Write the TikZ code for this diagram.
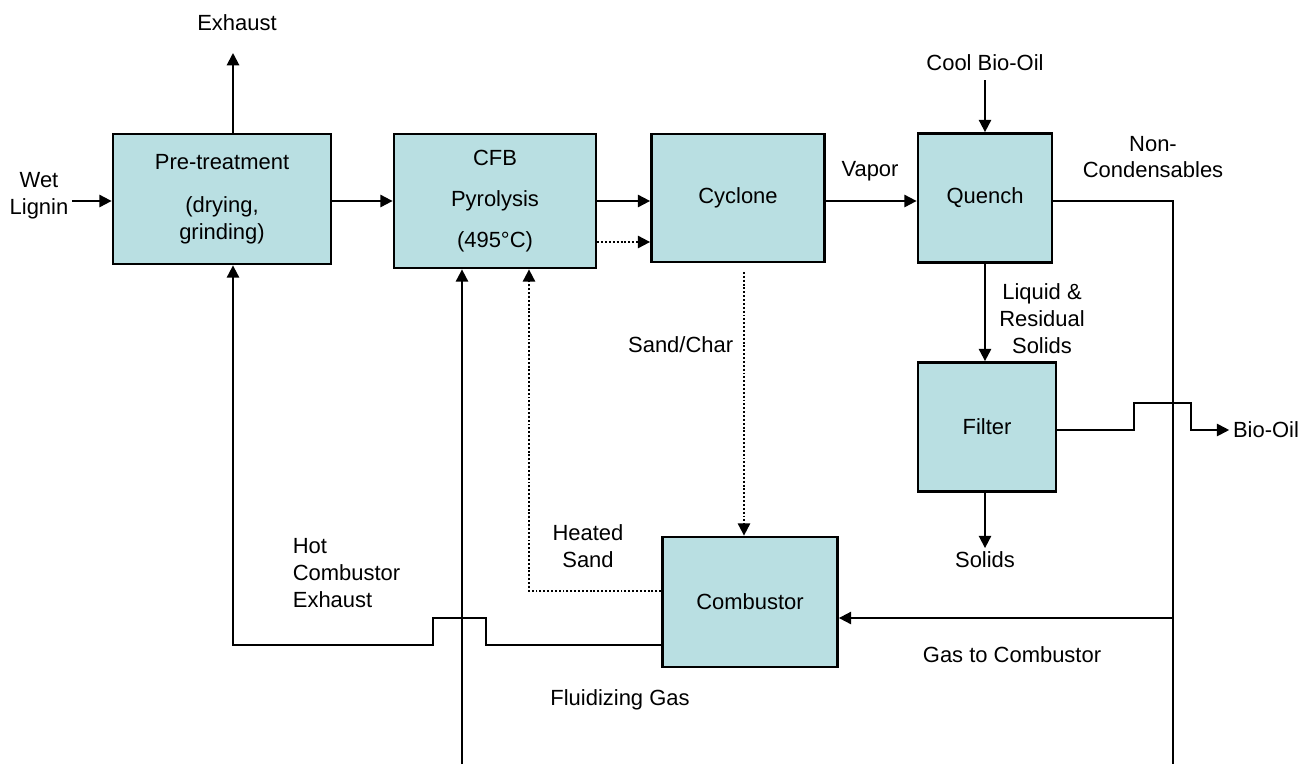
\documentclass[tikz,border=0pt]{standalone}
\usepackage{fontspec}
\setmainfont{Liberation Sans}
\usetikzlibrary{arrows.meta}
\definecolor{boxfill}{RGB}{185,223,226}
\tikzset{
  unit/.style={x=0.02cm,y=-0.02cm},
  proc/.style={draw,line width=1.6pt,fill=boxfill,align=center,inner sep=0pt},
  pipe/.style={line width=1.1pt},
  flow/.style={pipe,-{Triangle[length=7pt,width=7pt]}},
  dots/.style={dash pattern=on 1.1pt off 1.1pt},
  lbl/.style={align=center,inner sep=2pt}
}
\begin{document}
\begin{tikzpicture}[unit,font=\fontsize{12.5}{15.3}\selectfont]
\useasboundingbox (0,0) rectangle (1310,764);
% process units
\node[proc,minimum width=4.36cm,minimum height=2.6cm] (pre) at (222,199) {Pre-treatment\\[9pt](drying,\\grinding)};
\node[proc,minimum width=4.04cm,minimum height=2.68cm] (pyr) at (495,201) {CFB\\[8pt]Pyrolysis\\[8pt](495°C)};
\node[proc,minimum width=3.46cm,minimum height=2.56cm] (cyc) at (738,198) {Cyclone};
\node[proc,minimum width=2.68cm,minimum height=2.58cm] (que) at (985,198) {Quench};
\node[proc,minimum width=2.76cm,minimum height=2.58cm] (fil) at (987,427) {Filter};
\node[proc,minimum width=3.5cm,minimum height=2.6cm] (com) at (750,602) {Combustor};
% stream labels
\node[lbl] (wet) at (39,196) {Wet\\Lignin};
\node[lbl] (exhaust) at (237,23) {Exhaust};
\node[lbl] (vapor) at (870,171) {Vapor};
\node[lbl] (cool) at (985,63) {Cool Bio-Oil};
\node[lbl] (noncond) at (1153,157) {Non-\\Condensables};
\node[lbl] (liquid) at (1042,319) {Liquid \&\\Residual\\Solids};
\node[lbl] (solids) at (985,560) {Solids};
\node[lbl] (biooil) at (1266,430) {Bio-Oil};
\node[lbl,anchor=east] (sandchar) at (737,345) {Sand/Char};
\node[lbl] (heated) at (588,546) {Heated\\Sand};
\node[lbl,align=left,anchor=west] (hotexh) at (289,573) {Hot\\Combustor\\Exhaust};
\node[lbl] (gascomb) at (1012,655) {Gas to Combustor};
\node[lbl] (fluidgas) at (620,700) {Fluidizing Gas};
% rows and columns of the streams
\coordinate (mainrow) at (0,201);
\coordinate (charrow) at (0,242);
\coordinate (split) at (1173,201);
\coordinate (gasrow) at (0,618);
\coordinate (oilrow) at (0,430);
\coordinate (sandturn) at (529,591);
\coordinate (hotrow) at (0,645);
\coordinate (fluidin) at (462,764);
\coordinate (sandtop) at (744,272);
\coordinate (exhtip) at (233,53);
% main line
\draw[flow] (wet.east |- mainrow) -- (pre.west |- mainrow);
\draw[flow] (pre.east |- mainrow) -- (pyr.west |- mainrow);
\draw[flow] (pyr.east |- mainrow) -- (cyc.west |- mainrow);
\draw[flow,dots] (pyr.east |- charrow) -- (cyc.west |- charrow);
\draw[flow] (cyc.east |- mainrow) -- (que.west |- mainrow);
\draw[flow,shorten <=3pt] (cool) -- (que.north);
\draw[flow] (exhtip |- pre.north) -- (exhtip);
% gas loop
\draw[pipe] (que.east |- mainrow) -- (split) -- (split |- fluidin);
\draw[flow] (split |- gasrow) -- (com.east |- gasrow);
% liquids
\draw[flow] (que.south) -- (que.south |- fil.north);
\draw[flow] (que.south |- fil.south) -- (solids);
\draw[flow] (fil.east |- oilrow) -- ++(77,0) -- ++(0,-27) -- ++(57,0) -- ++(0,27) -- (biooil);
% sand and heat
\draw[flow,dots] (sandtop) -- (sandtop |- com.north);
\draw[flow,dots] (com.west |- sandturn) -- (sandturn) -- (sandturn |- pyr.south);
\draw[flow] (com.west |- hotrow) -- ++(-175,0) -- ++(0,-27) -- ++(-53,0) -- ++(0,27) -- (exhtip |- hotrow) -- (exhtip |- pre.south);
\draw[flow] (fluidin) -- (fluidin |- pyr.south);
\end{tikzpicture}
\end{document}
